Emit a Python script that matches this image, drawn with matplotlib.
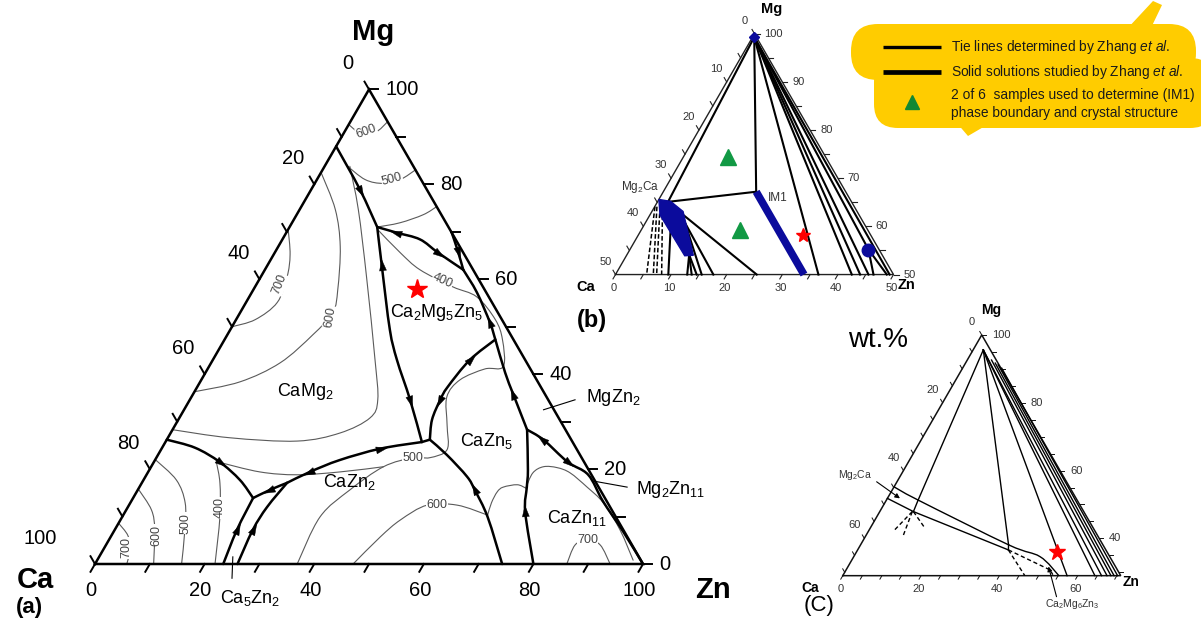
import numpy as np
import matplotlib
matplotlib.use("Agg")
import matplotlib.pyplot as plt
from matplotlib.path import Path
from matplotlib.patches import PathPatch, FancyBboxPatch, Polygon
from matplotlib.markers import MarkerStyle
from matplotlib.transforms import Affine2D

plt.rcParams['font.family'] = ['Liberation Sans', 'DejaVu Sans']
plt.rcParams['mathtext.fontset'] = 'custom'
plt.rcParams['mathtext.rm'] = 'Liberation Sans'
plt.rcParams['mathtext.it'] = 'Liberation Sans:italic'
plt.rcParams['mathtext.bf'] = 'Liberation Sans:bold'

# =================== DATA (compositions as (Zn, Mg)) ===================
# ---- panel (a): liquidus projection, at.% ----
a_ticks = list(range(0, 101, 10))
a_tick_labels = [0, 20, 40, 60, 80, 100]
# univariant valleys (thick lines)
a_b1 = [(0, 88), (8.9, 78.9), (16, 71)]
a_b2 = [(16, 71), (21, 62.7), (29.1, 49.4), (33.6, 43), (40.2, 34.6), (46.8, 25.7)]
a_b3 = [(16, 71), (20.2, 69.8), (25.1, 68.4), (29.8, 65.6), (36.2, 62)]
a_b4 = [(30.2, 69.8), (33.2, 66), (36.2, 62)]
a_b5 = [(36.2, 62), (41.1, 57.2), (46.7, 50.8), (49.4, 47.3), (54.7, 40.3), (58.5, 35.7), (64.7, 28.3)]
a_b6 = [(64.7, 28.3), (68.7, 26.2), (75.5, 21.5), (80.6, 18.8), (86, 13.3), (93, 6.8), (100, 0)]
a_b7 = [(64.7, 28.3), (69.1, 19.8), (70.7, 16.2), (73, 11), (80, 0)]
a_b8 = [(48.0, 26.2), (52.7, 23.0), (58.7, 18.4), (61.5, 15.6), (66.7, 9.9), (74.3, 0)]
a_b9 = [(48.0, 26.2), (46.3, 30.4), (45.7, 34.6), (45.7, 37.3), (46.9, 43.0), (49.4, 47.3)]
a_b10 = [(26.5, 17.1), (29.5, 19.4), (33.7, 21.9), (39.9, 24.3), (46.8, 25.7)]
a_b11 = [(21.9, 13.9), (24.1, 15.6), (26.5, 17.1)]
a_b12 = [(0, 26.2), (6, 24.5), (12, 21.5), (17.6, 17.7), (21.9, 13.9)]
a_b13 = [(21.9, 13.9), (22.3, 7.2), (23.4, 0)]
a_b14 = [(26, 0), (25.2, 7.2), (25.4, 12.0), (26.5, 17.1)]
a_b15 = [(46.8, 25.7), (48.0, 26.2)]
# isotherms (thin lines)
a_iso_600_top = [(0, 92.6), (2.2, 91.2), (4.5, 90.5), (6.0, 91.3), (6.8, 93.2)]
a_iso_500_top = [(3.9, 84), (8.8, 81.0), (12.5, 80.2), (15.2, 81.0), (17, 83.1)]
a_iso_450_top = [(16, 71), (19.7, 71.9), (23.1, 73.6), (24.7, 75.3)]
a_iso_400 = [(16.3, 70.5), (22.9, 65.6), (28.3, 62), (36.1, 58.4), (41.5, 56.3), (47.3, 51.5),
             (50.7, 47.3), (53.7, 41.6), (50.6, 41.1), (47.2, 38.8), (46.6, 35.2), (49.6, 29.3),
             (52.2, 24.1), (49.9, 22.4), (46.8, 22.4), (42.4, 20.5), (38.7, 15.6), (36.1, 9.9), (36.9, 0)]
a_iso_mid = [(11.7, 21.5), (20.4, 19.4), (27.5, 18.8), (35.0, 19.4), (42.4, 20.5)]
a_iso_600_cazn2 = [(47.1, 0), (49.2, 5.7), (51.1, 9.3), (54.4, 12.4), (59.9, 12.4), (66.5, 10.3)]
a_iso_dome1 = [(66.5, 10.3), (65.9, 12.9), (65.8, 15.2), (66.4, 16.2), (68.7, 16.7), (70.6, 16.0)]
a_iso_dome2 = [(70.6, 16.0), (70.3, 19.2), (71.6, 20.5), (74.2, 20.3), (77.1, 19.2), (81.7, 16.2),
               (86.3, 12.9), (92.2, 7.2), (97.8, 0.8)]
a_iso_700_cazn11 = [(86.1, 0), (85.6, 4.0), (87.3, 5.1), (90.2, 4.0), (94.0, 0)]
a_iso_700_ca = [(0, 8.6), (3.0, 6.0), (4.9, 3.0), (5.8, 0)]
a_iso_600_ca = [(0, 15.8), (4.6, 11.4), (7.3, 7.2), (10.7, 0)]
a_iso_500_ca = [(0, 22), (6.0, 17.7), (10.0, 12.9), (12.8, 7.2), (15.8, 0)]
a_iso_400_ca = [(11.6, 21.2), (14.3, 17.0), (17.8, 10.0), (21.9, 0)]
a_iso_700_m = [(0, 70.5), (3.0, 65.2), (4.8, 60.5), (5.7, 55.1), (3.5, 51.5), (0, 50)]
a_iso_600_m = [(0, 82.5), (6.5, 74.7), (11.3, 66.9), (15.4, 57.8), (16.9, 53.0), (15.6, 48.3),
               (12.6, 42.4), (7.3, 38.4), (0, 36.3)]
a_iso_500_m = [(4.6, 83.8), (10.7, 74.7), (19.3, 60.5), (29.6, 43.0), (34.3, 34.6), (34.8, 30.8),
               (30.9, 27.6), (23.9, 25.9), (11.3, 26.6), (0, 28.3)]
a_iso_values = ['600', '500', '400', '700', '600', '700', '600', '500', '400', '500', '600', '700']
a_iso_label_pts = [(4.0, 91.1), (13.7, 81.0), (33.6, 59.7), (4.3, 58.9), (16.8, 52.1), (4.1, 3.4),
                   (8.2, 6.1), (12.3, 8.6), (16.9, 11.8), (46.8, 22.4), (56.2, 12.4), (87.3, 5.1)]
a_star = (29.8, 58.0)
a_phases = ['CaMg$_2$', 'Ca$_2$Mg$_5$Zn$_5$', 'CaZn$_5$', 'CaZn$_2$', 'CaZn$_{11}$',
            'MgZn$_2$', 'Mg$_2$Zn$_{11}$', 'Ca$_5$Zn$_2$']
a_phase_pts = [(20.2, 36.3), (35.9, 53.0), (58.4, 25.9), (37.8, 17.3), (83.1, 9.7),
               (77.0, 35.0), (97.2, 15.8), (31.9, -7.2)]
a_leaders = [[(65.6, 32.5), (70.3, 34.6)], [(82.1, 17.5), (89.0, 16.2)], [(24.4, 1.5), (26.5, -3.0)]]

# ---- panel (b): Mg-rich partial section, at.% ----
b_ticks = list(range(0, 51, 5))
b_tick_labels = [0, 10, 20, 30, 40, 50]
b_apex = (0.3, 99.3)
b_mg2ca = (1.9, 65.1)
b_im1 = [(16.7, 67.2), (33.9, 50)]
b_blob = [(0, 65.6), (2.3, 65.2), (5.6, 63.1), (12.0, 54.0), (10.5, 53.9), (1.8, 62.4)]
b_dot = (42.9, 55.2)
b_ties = [[b_apex, b_mg2ca], [b_apex, (16.7, 67.2)], [b_mg2ca, (16.7, 67.2)],
          [(5.5, 62.7), (25.4, 50)], [(5.9, 62.0), (17.6, 50)], [(7.0, 60.9), (15.5, 50)],
          [(11.2, 54.1), (12.9, 50)], [(11.2, 54.1), (13.7, 50)], [(11.2, 54.1), (14.6, 50)],
          [(3.7, 62.7), (9.5, 50)],
          [b_apex, (36.5, 50)], [b_apex, (42.5, 50)], [b_apex, (44.0, 50)], [b_apex, (45.5, 50)],
          [b_apex, b_dot], [b_dot, (46.4, 50)], [b_dot, (48.8, 50)], [b_apex, (49.3, 50)]]
b_dashed = [[(0.05, 64.1), (5.6, 50)], [(0.4, 64.1), (6.8, 50)], [(0.95, 64.1), (7.4, 50)],
            [(1.6, 63.7), (8.3, 50)]]
b_samples = [(8.0, 74.5), (17.7, 59.3)]
b_star = (29.6, 58.3)

# ---- panel (c): isothermal section, wt.% ----
c_ticks = list(range(0, 71, 5))
c_tick_labels = [0, 20, 40, 60]
c_top = (2.6, 95.6)
c_ties = [[c_top, (8.1, 51.3)], [c_top, (37.8, 38.1)], [c_top, (57.3, 29)], [c_top, (64.4, 29)],
          [c_top, (66.1, 29)], [(6.2, 92.6), (67.5, 29)], [(7.6, 91.7), (68.5, 29)],
          [(8.6, 91.2), (69.3, 29)], [(10.0, 90.2), (70.2, 29)],
          [(8.1, 51.3), (8.6, 47.9)], [(37.8, 38.1), (38.5, 36.6)]]
c_band_upper = [(0, 55.2), (8.1, 51.3), (37.8, 38.1), (47.6, 34.6), (55.2, 29)]
c_band_lower = [(0, 51.8), (8.6, 47.9), (38.5, 36.6)]
c_dashed = [[(38.5, 36.6), (46.5, 29)], [(38.5, 36.6), (52.1, 30.7), (53.5, 29.3)],
            [(8.3, 47.9), (6.5, 42.5)], [(8.3, 47.9), (9.5, 41.0)], [(8.6, 47.9), (14.0, 43.0)]]
c_star = (51.2, 35.9)
c_leaders = [[(-5.2, 56.7), (3.2, 51.8)], [(57.7, 22.8), (51.2, 31.7)]]

# =================== DRAWING ===================
W, H = 1201, 628
fig = plt.figure(figsize=(W / 100, H / 100), dpi=100)
SQ = np.sqrt(3) / 2


def tern(pts):
    a = np.asarray(pts, float).reshape(-1, 2)
    return a[:, 0] + a[:, 1] / 2.0, a[:, 1] * SQ


def panel_axes(ox, oy, s):
    ax = fig.add_axes([0, 0, 1, 1])
    ax.set_xlim(-ox / s, (W - ox) / s)
    ax.set_ylim(-(H - oy) / s, oy / s)
    ax.axis('off')
    ax.patch.set_alpha(0)
    return ax


def curve(ax, pts, smooth=True, **kw):
    x, y = tern(pts)
    P = np.column_stack([x, y])
    if smooth and len(P) >= 3:
        Q = np.vstack([P[0], P, P[-1]])
        verts, codes = [P[0]], [Path.MOVETO]
        for i in range(1, len(Q) - 2):
            p0, p1, p2, p3 = Q[i - 1], Q[i], Q[i + 1], Q[i + 2]
            verts += [p1 + (p2 - p0) / 6, p2 - (p3 - p1) / 6, p2]
            codes += [Path.CURVE4] * 3
        path = Path(verts, codes)
    else:
        path = Path(P)
    kw.setdefault('capstyle', 'round')
    kw.setdefault('joinstyle', 'round')
    ax.add_patch(PathPatch(path, fill=False, **kw))


ARW = Path([(0, 1.0), (-0.5, -0.6), (0.5, -0.6), (0, 1.0)],
           [Path.MOVETO, Path.LINETO, Path.LINETO, Path.CLOSEPOLY])


def arrow_at(ax, pts, i, sign, ms=10):
    x, y = tern(pts)
    j0, j1 = max(i - 1, 0), min(i + 1, len(x) - 1)
    dx, dy = (x[j1] - x[j0]) * sign, (y[j1] - y[j0]) * sign
    ang = np.degrees(np.arctan2(dy, dx)) - 90
    m = MarkerStyle(ARW, transform=Affine2D().rotate_deg(ang))
    ax.plot([x[i]], [y[i]], marker=m, ms=ms, color='k', mec='k', mew=0.3, ls='none', zorder=6)


def frame(ax, s, m0, ticks, labels, fs, tick_px, lw, tlw, off_l, off_r, off_b, color='k',
          tcolor='k', big_left=0):
    corners = [(0, m0), (100 - m0, m0), (0, 100), (0, m0)]
    x, y = tern(corners)
    ax.plot(x, y, color=color, lw=lw, solid_joinstyle='miter', zorder=4)
    L = tick_px / s
    for v in ticks:
        bx, by = tern([(v, m0)])
        ax.plot([bx[0], bx[0] - 0.5 * L], [by[0], by[0] - SQ * L], color=color, lw=tlw, zorder=4)
        lx, ly = tern([(0, 100 - v)])
        ax.plot([lx[0], lx[0] - 0.5 * L], [ly[0], ly[0] + SQ * L], color=color, lw=tlw, zorder=4)
        rx, ry = tern([(v, 100 - v)])
        ax.plot([rx[0], rx[0] + L], [ry[0], ry[0]], color=color, lw=tlw, zorder=4)
    for v in labels:
        bx, by = tern([(v, m0)])
        ax.text(bx[0] + off_b[0] / s, by[0] - off_b[1] / s, str(v), fontsize=fs, color=tcolor,
                ha='center', va='center')
        lx, ly = tern([(0, 100 - v)])
        extra = big_left if len(str(v)) == 3 else 0
        ax.text(lx[0] + (off_l[0] + extra) / s, ly[0] - off_l[1] / s, str(v), fontsize=fs,
                color=tcolor, ha='center', va='center')
        rx, ry = tern([(v, 100 - v)])
        ax.text(rx[0] + off_r / s, ry[0], str(100 - v), fontsize=fs, color=tcolor,
                ha='left', va='center')


# ---------- pixel axes for decorations ----------
axp = fig.add_axes([0, 0, 1, 1])
axp.set_xlim(0, W)
axp.set_ylim(H, 0)
axp.axis('off')

# cloud legend
YEL = '#FFCC00'
axp.add_patch(FancyBboxPatch((851, 24), 345, 56, boxstyle='round,pad=0,rounding_size=27',
                             fc=YEL, ec='none', zorder=1))
axp.add_patch(FancyBboxPatch((874, 58), 340, 70, boxstyle='round,pad=0,rounding_size=24',
                             fc=YEL, ec='none', zorder=1))
axp.add_patch(Polygon([(1126, 30), (1153, 1), (1162, 5), (1150, 30)], closed=True, fc=YEL,
                      ec='none', zorder=1))
axp.add_patch(Polygon([(956, 122), (968, 136), (992, 122)], closed=True, fc=YEL, ec='none', zorder=1))
axp.plot([883, 941], [47, 47], color='k', lw=2.4, solid_capstyle='butt', zorder=2)
axp.plot([883, 941], [72, 72], color='k', lw=3.4, solid_capstyle='butt', zorder=2)
axp.plot([912], [102], marker='^', ms=10, color='#118833', ls='none', zorder=2)
lfs = 9.9
axp.text(951, 47, r'Tie lines determined by Zhang $\mathit{et\ al.}$', fontsize=lfs,
         color='#1a1a1a', va='center', ha='left', zorder=3)
axp.text(951, 72, r'Solid solutions studied by Zhang $\mathit{et\ al.}$', fontsize=lfs,
         color='#1a1a1a', va='center', ha='left', zorder=3)
axp.text(951, 95, '2 of 6  samples used to determine (IM1)', fontsize=lfs,
         color='#1a1a1a', va='center', ha='left', zorder=3)
axp.text(951, 113, 'phase boundary and crystal structure', fontsize=lfs,
         color='#1a1a1a', va='center', ha='left', zorder=3)

# corner / panel labels
axp.text(373, 32, 'Mg', fontsize=21, fontweight='bold', ha='center', va='center')
axp.text(35, 580, 'Ca', fontsize=21, fontweight='bold', ha='center', va='center')
axp.text(713, 590, 'Zn', fontsize=21, fontweight='bold', ha='center', va='center')
axp.text(29, 607, '(a)', fontsize=16, fontweight='bold', ha='center', va='center')
axp.text(772, 9, 'Mg', fontsize=10.5, fontweight='bold', ha='center', va='center')
axp.text(586, 287, 'Ca', fontsize=10.5, fontweight='bold', ha='center', va='center')
axp.text(906, 285, 'Zn', fontsize=10.5, fontweight='bold', ha='center', va='center')
axp.text(592, 320, '(b)', fontsize=17, fontweight='bold', ha='center', va='center')
axp.text(640, 187, 'Mg$_2$Ca', fontsize=8.5, color='#333', ha='center', va='center')
axp.text(778, 198, 'IM1', fontsize=8.5, color='#333', ha='center', va='center')
axp.text(991, 310, 'Mg', fontsize=10, fontweight='bold', ha='center', va='center')
axp.text(810, 588, 'Ca', fontsize=10, fontweight='bold', ha='center', va='center')
axp.text(1131, 582, 'Zn', fontsize=10, fontweight='bold', ha='center', va='center')
axp.text(819, 606, '(C)', fontsize=16, ha='center', va='center')
axp.text(878, 340, 'wt.%', fontsize=20, ha='center', va='center')
axp.text(855, 475, 'Mg$_2$Ca', fontsize=7.5, color='#333', ha='center', va='center')
axp.text(1072, 604, 'Ca$_2$Mg$_6$Zn$_3$', fontsize=7.5, color='#333', ha='center', va='center')

# ---------- panel (a) ----------
sa = 5.48
ax_a = panel_axes(95, 564, sa)
frame(ax_a, sa, 0, a_ticks, a_tick_labels, 14.5, 9, 1.8, 1.4, (-21, -26), 16, (-4, 26),
      big_left=-34)
GRAY = '#5a5a5a'
for iso in [a_iso_600_top, a_iso_500_top, a_iso_450_top, a_iso_400, a_iso_mid, a_iso_600_cazn2,
            a_iso_dome1, a_iso_dome2, a_iso_700_cazn11, a_iso_700_ca, a_iso_600_ca, a_iso_500_ca,
            a_iso_400_ca, a_iso_700_m, a_iso_600_m, a_iso_500_m]:
    curve(ax_a, iso, lw=0.8, ec=GRAY, zorder=2)
rots = [20, 15, -25, 68, 80, 90, 90, 90, 90, 0, 0, 0]
for txt, p, r in zip(a_iso_values, a_iso_label_pts, rots):
    x, y = tern([p])
    ax_a.text(x[0], y[0], txt, fontsize=9, color='#444', rotation=r, ha='center', va='center',
              rotation_mode='anchor', zorder=3,
              bbox=dict(fc='white', ec='none', pad=0.3))
for b in [a_b1, a_b2, a_b3, a_b4, a_b5, a_b6, a_b7, a_b8, a_b9, a_b10, a_b11, a_b12, a_b13,
          a_b14, a_b15]:
    curve(ax_a, b, lw=1.8, ec='k', zorder=5)
for line, i, sgn in [(a_b1, 1, 1), (a_b2, 1, -1), (a_b2, 4, 1), (a_b3, 1, -1), (a_b3, 3, 1),
                     (a_b4, 1, 1), (a_b5, 2, -1), (a_b5, 5, -1), (a_b6, 1, -1), (a_b6, 2, 1),
                     (a_b7, 3, -1), (a_b8, 3, -1), (a_b9, 2, -1), (a_b9, 4, 1), (a_b10, 1, -1),
                     (a_b10, 3, 1), (a_b11, 1, -1), (a_b12, 2, 1), (a_b13, 1, -1), (a_b14, 1, 1)]:
    arrow_at(ax_a, line, i, sgn)
for ld in a_leaders:
    x, y = tern(ld)
    ax_a.plot(x, y, color='k', lw=0.8, zorder=3)
for txt, p in zip(a_phases, a_phase_pts):
    x, y = tern([p])
    ax_a.text(x[0], y[0], txt, fontsize=13, ha='center', va='center', zorder=7)
x, y = tern([a_star])
ax_a.plot(x, y, marker='*', ms=15, color='red', mec='red', ls='none', zorder=7)

# ---------- panel (b) ----------
sb = 5.56
ax_b = panel_axes(476.5, 515.3, sb)
frame(ax_b, sb, 50, b_ticks, b_tick_labels, 8, 5, 1.0, 0.8, (-10, -13), 10, (-2, 13),
      color='#222', tcolor='#333')
for t in b_ties:
    x, y = tern(t)
    ax_b.plot(x, y, color='k', lw=1.5, zorder=5)
for t in b_dashed:
    x, y = tern(t)
    ax_b.plot(x, y, color='k', lw=1.1, ls=(0, (3, 1.5)), zorder=5)
x, y = tern(b_blob)
ax_b.fill(x, y, color='#0b0b9c', zorder=6)
x, y = tern(b_im1)
ax_b.plot(x, y, color='#0b0b9c', lw=5.5, solid_capstyle='butt', zorder=6)
x, y = tern([b_dot])
ax_b.plot(x, y, marker='o', ms=9, color='#0b0b9c', ls='none', zorder=7)
x, y = tern([b_apex])
ax_b.plot(x, y, marker='D', ms=5, color='#0b0b9c', ls='none', zorder=7)
x, y = tern(b_samples)
ax_b.plot(x, y, marker='^', ms=12, color='#119944', ls='none', zorder=7)
x, y = tern([b_star])
ax_b.plot(x, y, marker='*', ms=10, color='red', ls='none', zorder=7)

# ---------- panel (c) ----------
sc = 3.915
ax_c = panel_axes(786, 674, sc)
frame(ax_c, sc, 29, c_ticks, c_tick_labels, 8, 4, 1.1, 0.7, (-10, -13), 10, (-2, 13),
      color='#111', tcolor='#333')
for t in c_ties:
    x, y = tern(t)
    ax_c.plot(x, y, color='k', lw=1.0, zorder=5)
curve(ax_c, c_band_upper, lw=1.0, ec='k', zorder=5)
x, y = tern(c_band_lower)
ax_c.plot(x, y, color='k', lw=1.0, zorder=5)
for t in c_dashed:
    x, y = tern(t)
    ax_c.plot(x, y, color='k', lw=1.0, ls=(0, (3, 2)), zorder=5)
x, y = tern([c_star])
ax_c.plot(x, y, marker='*', ms=12, color='red', ls='none', zorder=7)
for ld in c_leaders:
    x, y = tern(ld)
    ax_c.annotate('', xy=(x[1], y[1]), xytext=(x[0], y[0]),
                  arrowprops=dict(arrowstyle='-|>', color='k', lw=0.8, mutation_scale=7,
                                  shrinkA=0, shrinkB=0), zorder=6)

fig.savefig('out.png', dpi=100)
